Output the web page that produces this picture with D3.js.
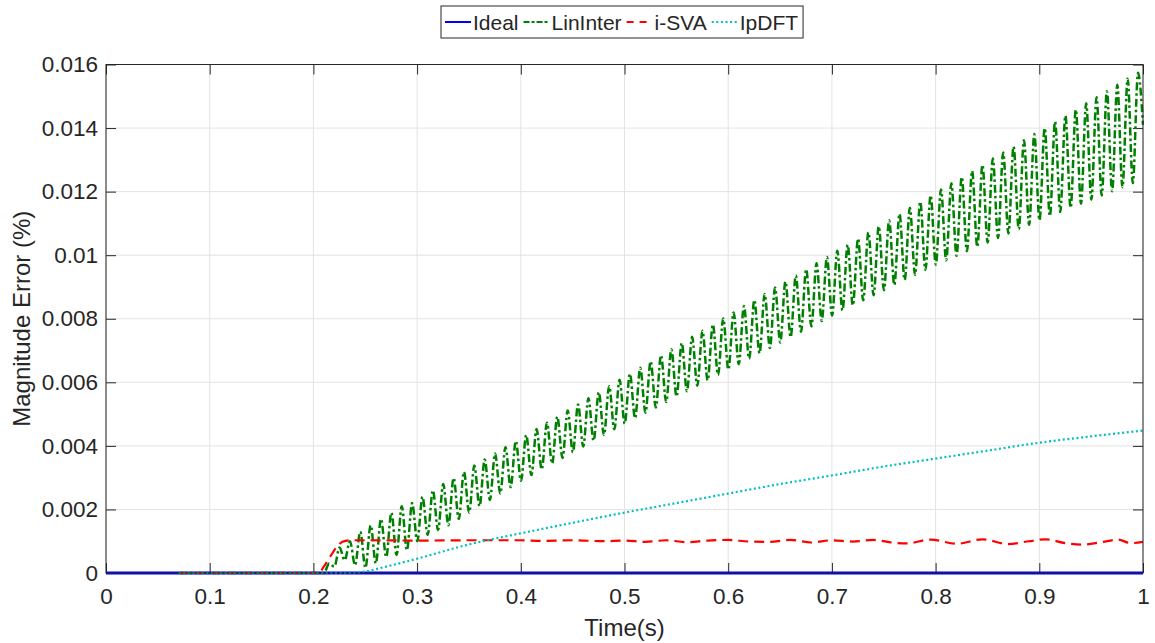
<!DOCTYPE html>
<html><head><meta charset="utf-8">
<script src="https://cdn.jsdelivr.net/npm/d3@7/dist/d3.min.js"></script>
<style>body{margin:0;background:#fff} text{font-family:"Liberation Sans",Arial,Helvetica,sans-serif;fill:#262626}</style>
</head><body><svg id="c" width="1155" height="643"></svg>
<script>
// ---------- data ----------
const xTicks = [0,0.1,0.2,0.3,0.4,0.5,0.6,0.7,0.8,0.9,1];
const xTickLabels = ["0","0.1","0.2","0.3","0.4","0.5","0.6","0.7","0.8","0.9","1"];
const yTicks = [0,0.002,0.004,0.006,0.008,0.01,0.012,0.014,0.016];
const yTickLabels = ["0","0.002","0.004","0.006","0.008","0.01","0.012","0.014","0.016"];
const seriesNames = ["Ideal","LinInter","i-SVA","IpDFT"];

const idealT = [0, 1];
const idealV = [0, 0];

// LinInter: flat part, then 100 Hz oscillation (troughs / peaks per cycle)
const linLeadT = [0.07, 0.205];
const linLeadV = [0, 0];
const linTroughStart = 0.2102;   // time of first trough (s)
const linPeakStart = 0.2152;     // time of first peak (s)
const linCycle = 0.01;           // oscillation period (s)
const linPeaks = [0.0003,0.0008,0.0010,0.0013,0.0015,0.0017,0.0019,0.0021,0.0022,0.0024,0.0026,
  0.00280,0.00299,0.00318,0.00338,0.00357,0.00376,0.00396,0.00415,0.00434,0.00453,0.00473,0.00492,
  0.00511,0.00530,0.00550,0.00569,0.00588,0.00608,0.00627,0.00646,0.00666,0.00685,0.00704,0.00724,
  0.00743,0.00762,0.00782,0.00801,0.00820,0.00840,0.00859,0.00878,0.00898,0.00917,0.00936,0.00956,
  0.00975,0.00994,0.01014,0.01033,0.01052,0.01072,0.01091,0.01110,0.01130,0.01149,0.01168,0.01188,
  0.01207,0.01226,0.01246,0.01265,0.01284,0.01304,0.01323,0.01342,0.01362,0.01381,0.01400,0.01420,
  0.01439,0.01458,0.01478,0.01497,0.01516,0.01536,0.01555,0.01574];
const linTroughs = [0.0000,0.0002,0.0004,0.00025,0.00016,0.0003,0.0005,0.00057,0.00072,0.00100,
  0.00120,0.00135,0.00150,0.00170,0.00190,0.00210,0.00230,0.00250,0.00270,0.00290,
  0.00308,0.00326,0.00344,0.00362,0.00380,0.00398,0.00416,0.00434,0.00452,0.00470,
  0.00487,0.00504,0.00521,0.00538,0.00555,0.00572,0.00589,0.00606,0.00623,0.00640,
  0.00657,0.00674,0.00691,0.00708,0.00725,0.00742,0.00759,0.00776,0.00793,0.00810,
  0.00826,0.00842,0.00858,0.00874,0.00890,0.00906,0.00922,0.00938,0.00954,0.00970,
  0.00984,0.00998,0.01012,0.01026,0.01040,0.01054,0.01068,0.01082,0.01096,0.01110,
  0.01123,0.01136,0.01149,0.01162,0.01175,0.01188,0.01201,0.01214,0.01227];
const linEndT = 1.0, linEndV = 0.0141;

const svaT = [0.07,0.205,0.21,0.216,0.222,0.228,0.235,0.25,0.3,0.35,0.4,0.42,0.45,0.48,0.5,0.52,0.54,0.56,0.58,0.6,
  0.62,0.64,0.66,0.68,0.7,0.72,0.74,0.76,0.772,0.795,0.821,0.845,0.87,0.89,0.906,0.925,0.941,0.96,0.976,0.988,1.0];
const svaV = [0,0,0.0002,0.0005,0.0008,0.00098,0.00103,0.00103,0.00102,0.00103,0.00103,0.00101,0.00103,0.00100,0.00102,
  0.00098,0.00103,0.00097,0.00102,0.00104,0.00099,0.00098,0.00104,0.00096,0.00103,0.00099,0.00104,0.00095,0.00093,
  0.00105,0.00092,0.00106,0.00091,0.00100,0.00106,0.00094,0.00089,0.00097,0.00105,0.00094,0.00098];

const ipT = [0.07,0.23,0.25,0.27,0.3,0.35,0.4,0.45,0.5,0.55,0.6,0.65,0.7,0.75,0.8,0.85,0.9,0.95,1.0];
const ipV = [0,0,0.00005,0.0002,0.00045,0.0009,0.00125,0.00158,0.0019,0.0022,0.0025,0.0028,0.00307,0.00335,0.0036,
  0.00385,0.0041,0.0043,0.00448];

// ---------- build point lists ----------
const zip = (a,b) => a.map((t,i)=>[t,b[i]]);
const linPts = zip(linLeadT, linLeadV);
const nCyc = Math.min(linPeaks.length, linTroughs.length);
for (let k=0;k<nCyc;k++){
  linPts.push([linTroughStart + k*linCycle, linTroughs[k]]);
  linPts.push([linPeakStart + k*linCycle, linPeaks[k]]);
}
linPts.push([linEndT, linEndV]);

// ---------- drawing ----------
const svg = d3.select("#c");
const L=106, R=1143, T=64.5, B=573;
const x = d3.scaleLinear().domain([0,1]).range([L,R]);
const y = d3.scaleLinear().domain([0,0.016]).range([B,T]);
const ink = "#262626";

svg.append("rect").attr("x",0).attr("y",0).attr("width",1155).attr("height",643).attr("fill","#fff");

// grid
const g = svg.append("g");
g.selectAll(".gx").data(xTicks).enter().append("line")
  .attr("x1",d=>x(d)).attr("x2",d=>x(d)).attr("y1",T).attr("y2",B)
  .attr("stroke","#e3e3e3").attr("stroke-width",1);
g.selectAll(".gy").data(yTicks).enter().append("line")
  .attr("x1",L).attr("x2",R).attr("y1",d=>y(d)).attr("y2",d=>y(d))
  .attr("stroke","#e3e3e3").attr("stroke-width",1);

// axes
function styleAxis(sel){
  sel.select(".domain").remove();
  sel.selectAll(".tick line").attr("stroke",ink).attr("stroke-width",1);
  sel.selectAll(".tick text").attr("fill",ink).style("font-size","22.5px");
}
svg.append("g").attr("transform",`translate(0,${B})`)
  .call(d3.axisBottom(x).tickValues(xTicks).tickFormat((d,i)=>xTickLabels[i]).tickSize(-10).tickPadding(15))
  .call(styleAxis);
svg.append("g").attr("transform",`translate(0,${T})`)
  .call(d3.axisTop(x).tickValues(xTicks).tickFormat("").tickSize(-10)).call(styleAxis);
svg.append("g").attr("transform",`translate(${L},0)`)
  .call(d3.axisLeft(y).tickValues(yTicks).tickFormat((d,i)=>yTickLabels[i]).tickSize(-10).tickPadding(8))
  .call(styleAxis);
svg.append("g").attr("transform",`translate(${R},0)`)
  .call(d3.axisRight(y).tickValues(yTicks).tickFormat("").tickSize(-10)).call(styleAxis);

// series
const line = d3.line().x(d=>x(d[0])).y(d=>y(d[1]));
svg.append("clipPath").attr("id","pc").append("rect")
  .attr("x",L).attr("y",T-3).attr("width",R-L+1).attr("height",B-T+6);
const plot = svg.append("g").attr("clip-path","url(#pc)");

const styles = [
  {color:"#0000ff", dash:null, w:3},
  {color:"#008000", dash:"8,3,2.5,3", w:2.5},
  {color:"#ff0000", dash:"10,6", w:2.2},
  {color:"#00bfbf", dash:"2,2.6", w:2.2}
];
const seriesPts = [zip(idealT,idealV), linPts, zip(svaT,svaV), zip(ipT,ipV)];
const curves = [d3.curveLinear, d3.curveMonotoneX, d3.curveMonotoneX, d3.curveMonotoneX];
seriesPts.forEach((pts,i)=>{
  plot.append("path").datum(pts)
    .attr("d", line.curve(curves[i]))
    .attr("fill","none").attr("stroke",styles[i].color)
    .attr("stroke-width",styles[i].w)
    .attr("stroke-dasharray",styles[i].dash)
    .attr("stroke-linejoin","round");
});

// box
svg.append("rect").attr("x",L).attr("y",T).attr("width",R-L).attr("height",B-T)
  .attr("fill","none").attr("stroke",ink).attr("stroke-width",1);

// axis labels
svg.append("text").attr("x",(L+R)/2).attr("y",636).attr("text-anchor","middle")
  .style("font-size","24px").text("Time(s)");
svg.append("text").attr("transform",`translate(30,${(T+B)/2}) rotate(-90)`).attr("text-anchor","middle")
  .style("font-size","24px").text("Magnitude Error (%)");

// legend
const lg = svg.append("g");
const lgBox = lg.append("rect").attr("y",6).attr("height",32).attr("fill","#fff")
  .attr("stroke",ink).attr("stroke-width",1);
let cx = 445;
seriesNames.forEach((name,i)=>{
  lg.append("line").attr("x1",cx).attr("x2",cx+26).attr("y1",22).attr("y2",22)
    .attr("stroke",styles[i].color).attr("stroke-width",2)
    .attr("stroke-dasharray", i===1 ? "6,2,3,2" : i===2 ? "7,6" : styles[i].dash);
  const t = lg.append("text").attr("x",cx+28).attr("y",30).style("font-size","21px").text(name);
  cx += 28 + t.node().getComputedTextLength() + 5;
});
lgBox.attr("x",441).attr("width",cx-441);
</script></body></html>
